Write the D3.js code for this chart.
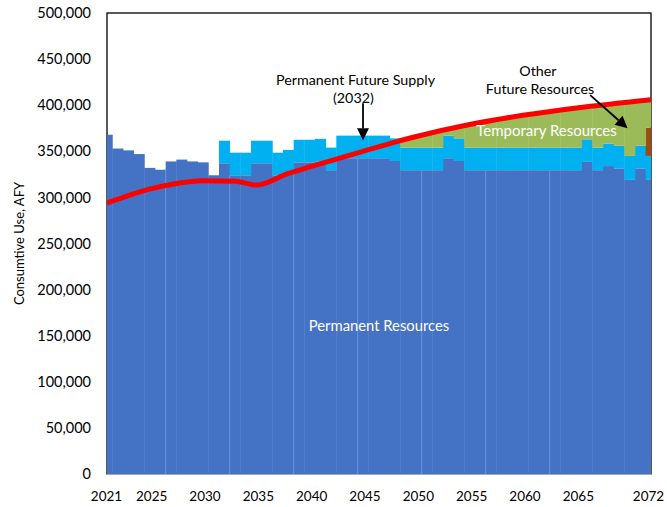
<!DOCTYPE html>
<html><head><meta charset="utf-8">
<script src="https://cdn.jsdelivr.net/npm/d3@7/dist/d3.min.js"></script>
<style>
body{margin:0;background:#fff;}
svg text{font-family:Lato,"Open Sans",sans-serif;}
</style>
</head><body>
<svg id="chart" width="667" height="507"></svg>
<script>
// ---- data (AFY) ----
const years = [2021,2022,2023,2024,2025,2026,2027,2028,2029,2030,2031,2032,2033,2034,2035,2036,2037,2038,2039,2040,
  2041,2042,2043,2044,2045,2046,2047,2048,2049,2050,2051,2052,2053,2054,2055,2056,2057,2058,2059,2060,
  2061,2062,2063,2064,2065,2066,2067,2068,2069,2070,2071,2072];
const permanentResources = [368000,353000,351000,347000,332000,330000,339000,341000,339000,338000,324000,
  337000,324000,324000,337000,337000,324000,327000,338000,338000,339000,329500,
  342500,342500,342500,342500,342500,339500,329500,329500,329500,329500,342500,339500,
  329500,329500,329500,329500,329500,329500,329500,329500,329500,329500,329500,
  338500,329500,334000,331500,319000,331500,319000];
const permanentFutureSupply = [0,0,0,0,0,0,0,0,0,0,0,
  24500,24500,24500,24500,24500,24500,24500,24500,24500,24500,24500,
  24500,24500,24500,24500,24500,24500,24500,24500,24500,24500,24500,24500,
  24500,24500,24500,24500,24500,24500,24500,24500,24500,24500,24500,
  24500,24500,24500,24500,26000,24500,26000];
const otherFutureResources = [0,0,0,0,0,0,0,0,0,0,0,0,0,0,0,0,0,0,0,0,0,0,0,0,0,0,0,0,0,0,0,0,0,0,
  0,0,0,0,0,0,0,0,0,0,0,0,0,0,0,0,0,30600];
const temporaryResources = [0,0,0,0,0,0,0,0,0,0,0,0,0,0,0,0,0,0,0,0,0,0,0,0,0,0,0,0,
  9000,12000,14600,17200,6800,12400,
  25000,27000,29000,31000,33000,35000,36600,38200,39800,41400,43000,
  35300,45600,42400,46100,58400,48700,30400];
const demandYears  = [2021,2023,2025,2027,2030,2033,2035,2038,2040,2045,2048,2050,2055,2060,2065,2072];
const demandValues = [294000,302000,309000,314000,318000,317500,313500,326000,333000,350000,360000,366000,379000,389000,397000,406000];
const xTickYears = [2021,2025,2030,2035,2040,2045,2050,2055,2060,2065,2072];
const yTickValues = [0,50000,100000,150000,200000,250000,300000,350000,400000,450000,500000];
const seamYears = [2027,2033,2039,2045,2051,2057,2063];

const seriesKeys = ["permanent","future","other","temporary"];
const seriesColors = {permanent:"#4472C4", future:"#00B0F0", other:"#A04A0E", temporary:"#9BBB59"};

// ---- layout ----
const L = 107, R = 651, T = 13, B = 474;
const svg = d3.select("#chart");
const x = d3.scaleLinear().domain([2021, 2072]).range([L, R]);
const y = d3.scaleLinear().domain([0, 500000]).range([B, T]);
const bw = x(2022) - x(2021);

const table = years.map((yr, i) => ({year: yr, permanent: permanentResources[i], future: permanentFutureSupply[i],
  other: otherFutureResources[i], temporary: temporaryResources[i]}));
const stacked = d3.stack().keys(seriesKeys)(table);

svg.append("defs").append("clipPath").attr("id","plotclip")
  .append("rect").attr("x", L).attr("y", T).attr("width", R - L).attr("height", B - T);

// plot border
svg.append("rect").attr("x", L).attr("y", T).attr("width", R - L).attr("height", B - T)
  .attr("fill","none").attr("stroke","#000").attr("stroke-width",1.3);

const gBars = svg.append("g").attr("clip-path","url(#plotclip)");
stacked.forEach(s => {
  gBars.append("g").attr("fill", seriesColors[s.key])
    .selectAll("rect").data(s.filter(d => d[1] > d[0])).join("rect")
    .attr("x", d => x(d.data.year) - bw/2)
    .attr("width", bw + 0.4)
    .attr("y", d => y(d[1]))
    .attr("height", d => y(d[0]) - y(d[1]));
});

// faint seams inside the permanent bars
gBars.append("g").selectAll("line").data(seamYears).join("line")
  .attr("x1", d => x(d) - bw/2).attr("x2", d => x(d) - bw/2)
  .attr("y1", B)
  .attr("y2", d => { const i = years.indexOf(d); return y(Math.min(permanentResources[i], permanentResources[i-1])); })
  .attr("stroke","#6f93d9").attr("stroke-width",1);

// bottom axis line
svg.append("line").attr("x1", L).attr("x2", R).attr("y1", B + 0.5).attr("y2", B + 0.5)
  .attr("stroke","#a6a6a6").attr("stroke-width",1);

// demand line
const line = d3.line().x(d => x(d[0])).y(d => y(d[1])).curve(d3.curveMonotoneX);
svg.append("path").datum(demandYears.map((yr, i) => [yr, demandValues[i]]))
  .attr("d", line).attr("fill","none").attr("stroke","#FF0000").attr("stroke-width",5)
  .attr("stroke-linecap","butt").attr("clip-path","url(#plotclip)");

// axes
const yAxis = svg.append("g").attr("transform", `translate(${L},0)`)
  .call(d3.axisLeft(y).tickValues(yTickValues).tickSize(0).tickPadding(16).tickFormat(d3.format(",")));
yAxis.select(".domain").remove();
yAxis.selectAll("text").attr("font-size", 14.5).attr("fill","#000").attr("font-family","Lato");

const xAxis = svg.append("g").attr("transform", `translate(0,${B})`)
  .call(d3.axisBottom(x).tickValues(xTickYears).tickSize(0).tickPadding(17).tickFormat(d => String(d)));
xAxis.select(".domain").remove();
xAxis.selectAll("text").attr("font-size", 13.5).attr("fill","#000").attr("font-family","Lato")
  .attr("dx", d => d === 2072 ? -3 : (d === 2021 ? -1 : 1.5));

svg.append("text").attr("transform", `translate(19,${y(250000)}) rotate(-90)`)
  .attr("text-anchor","middle").attr("dy","0.35em").attr("font-size",13).attr("fill","#000").text("Consumtive Use, AFY");

// annotations
const ann = svg.append("g").attr("font-size",14.3).attr("fill","#000");
ann.append("text").attr("x", x(2044.3)).attr("y", y(427000)).attr("dy","0.35em").attr("text-anchor","middle").text("Permanent Future Supply");
ann.append("text").attr("x", x(2044.1)).attr("y", y(408000)).attr("dy","0.35em").attr("text-anchor","middle").text("(2032)");
ann.append("text").attr("x", x(2061.4)).attr("y", y(437000)).attr("dy","0.35em").attr("text-anchor","middle").text("Other");
ann.append("text").attr("x", x(2061.6)).attr("y", y(418000)).attr("dy","0.35em").attr("text-anchor","middle").text("Future Resources");

svg.append("text").attr("x", x(2062.2)).attr("y", y(372000)).attr("dy","0.35em").attr("text-anchor","middle")
  .attr("font-size",15).attr("fill","#fff").text("Temporary Resources");
svg.append("text").attr("x", x(2046.5)).attr("y", y(160500)).attr("dy","0.35em").attr("text-anchor","middle")
  .attr("font-size",14.8).attr("fill","#fff").text("Permanent Resources");

function arrow(x1, y1, x2, y2) {
  const ang = Math.atan2(y2 - y1, x2 - x1), len = 12, half = 6;
  const bx = x2 - len * Math.cos(ang), by = y2 - len * Math.sin(ang);
  svg.append("line").attr("x1", x1).attr("y1", y1).attr("x2", bx).attr("y2", by)
    .attr("stroke","#000").attr("stroke-width",1.8);
  const px = -Math.sin(ang) * half, py = Math.cos(ang) * half;
  svg.append("path").attr("d", `M${x2},${y2}L${bx+px},${by+py}L${bx-px},${by-py}Z`).attr("fill","#000");
}
arrow(x(2045.0), y(402000), x(2045.0), y(362000));
arrow(x(2066.3), y(411000), x(2069.8), y(375000));
</script>
</body></html>
